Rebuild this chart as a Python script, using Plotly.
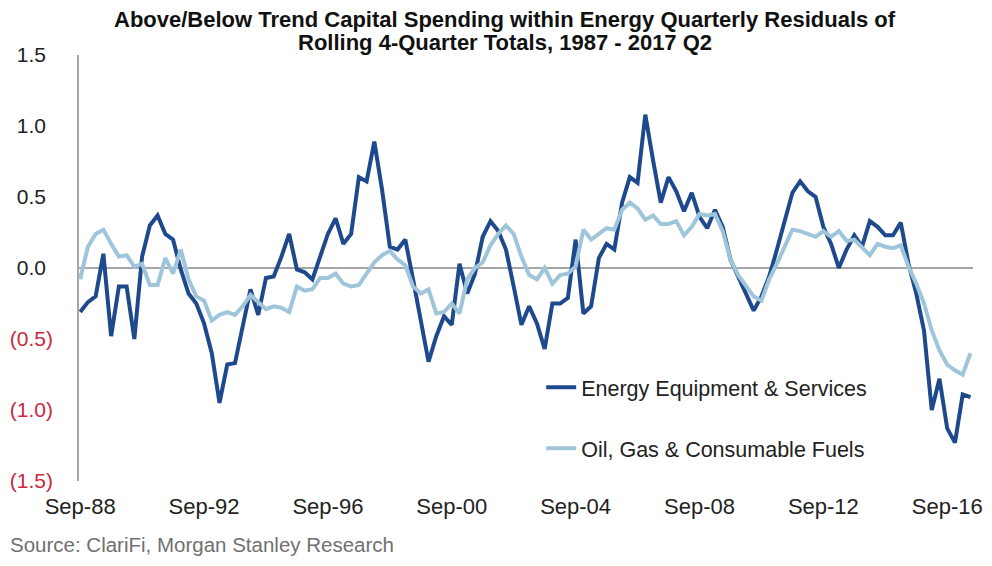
import plotly.graph_objects as go

# Quarterly residuals, Sep-88 through Jun-17
months = ["Mar", "Jun", "Sep", "Dec"]
quarters = []
for yr in range(1988, 2018):
    for q, m in enumerate(months):
        if (yr == 1988 and q < 2) or (yr == 2017 and q > 1):
            continue
        quarters.append(f"{m}-{yr % 100:02d}")

energy_equipment = [
    -0.31, -0.24, -0.20, 0.10, -0.48, -0.13, -0.13, -0.50, 0.08, 0.30,
    0.37, 0.24, 0.20, -0.01, -0.18, -0.25, -0.39, -0.60, -0.95, -0.68,
    -0.67, -0.41, -0.15, -0.33, -0.07, -0.06, 0.08, 0.24, -0.01, -0.03,
    -0.08, 0.08, 0.24, 0.35, 0.17, 0.24, 0.64, 0.61, 0.89, 0.55,
    0.15, 0.13, 0.20, -0.08, -0.39, -0.66, -0.48, -0.34, -0.40, 0.03,
    -0.18, -0.04, 0.22, 0.33, 0.26, 0.13, -0.13, -0.40, -0.27, -0.39,
    -0.57, -0.25, -0.25, -0.21, 0.20, -0.32, -0.27, 0.07, 0.17, 0.13,
    0.46, 0.64, 0.60, 1.08, 0.76, 0.46, 0.64, 0.54, 0.40, 0.53,
    0.36, 0.28, 0.41, 0.29, 0.06, -0.06, -0.18, -0.30, -0.20, -0.06,
    0.13, 0.34, 0.53, 0.61, 0.54, 0.50, 0.29, 0.17, 0.00, 0.13,
    0.23, 0.15, 0.33, 0.29, 0.23, 0.23, 0.32, 0.03, -0.18, -0.44,
    -1.00, -0.78, -1.13, -1.23, -0.89, -0.91,
]

oil_gas_fuels = [
    -0.08, 0.15, 0.24, 0.27, 0.17, 0.08, 0.09, 0.01, 0.03, -0.12,
    -0.12, 0.07, -0.04, 0.13, -0.08, -0.20, -0.23, -0.37, -0.33, -0.31,
    -0.33, -0.27, -0.19, -0.24, -0.29, -0.27, -0.28, -0.31, -0.13, -0.16,
    -0.15, -0.07, -0.07, -0.04, -0.11, -0.13, -0.12, -0.04, 0.04, 0.09,
    0.12, 0.06, 0.02, -0.13, -0.18, -0.15, -0.32, -0.31, -0.25, -0.32,
    -0.08, 0.00, 0.04, 0.16, 0.24, 0.30, 0.24, 0.08, -0.05, -0.08,
    0.00, -0.11, -0.05, -0.04, 0.01, 0.27, 0.20, 0.24, 0.28, 0.27,
    0.41, 0.46, 0.42, 0.34, 0.37, 0.31, 0.31, 0.33, 0.23, 0.29,
    0.38, 0.37, 0.38, 0.26, 0.06, -0.05, -0.12, -0.20, -0.23, -0.08,
    0.03, 0.15, 0.27, 0.26, 0.24, 0.22, 0.26, 0.22, 0.26, 0.19,
    0.20, 0.14, 0.09, 0.17, 0.15, 0.14, 0.16, 0.01, -0.11, -0.25,
    -0.44, -0.58, -0.68, -0.72, -0.75, -0.60,
]

x_ticks = ["Sep-88", "Sep-92", "Sep-96", "Sep-00", "Sep-04", "Sep-08", "Sep-12", "Sep-16"]
y_ticks = [1.5, 1.0, 0.5, 0.0, -0.5, -1.0, -1.5]

title_lines = [
    "Above/Below Trend Capital Spending within Energy Quarterly Residuals of",
    "Rolling 4-Quarter Totals, 1987 - 2017 Q2",
]

DARK = "#1e4a8d"
LIGHT = "#9fc5da"
NEG = "#c9283e"
FONT = "Liberation Sans, Arial, sans-serif"


def y_label(v):
    if v < 0:
        return f"<span style='color:{NEG}'>({abs(v):.1f})</span>"
    return f"{v:.1f}<span style='color:rgba(0,0,0,0)'>)</span>"


fig = go.Figure()
fig.add_trace(go.Scatter(
    x=quarters, y=energy_equipment, mode="lines",
    name="Energy Equipment & Services", legendgroup="a",
    line=dict(color=DARK, width=4),
))
fig.add_trace(go.Scatter(
    x=quarters, y=oil_gas_fuels, mode="lines",
    name="Oil, Gas & Consumable Fuels", legendgroup="b",
    line=dict(color=LIGHT, width=4),
))

fig.update_layout(
    width=992, height=566,
    margin=dict(l=72, r=10, t=55, b=85),
    paper_bgcolor="white", plot_bgcolor="white",
    font=dict(family=FONT, color="#222222"),
    xaxis=dict(
        type="category", range=[-0.15, 115.33],
        tickmode="array", tickvals=x_ticks, ticktext=x_ticks,
        showgrid=False, zeroline=False, showline=False, ticks="",
        ticklabelstandoff=10,
        tickfont=dict(size=22, color="#222222"),
    ),
    yaxis=dict(
        range=[-1.5, 1.5], tickmode="array", tickvals=y_ticks,
        ticktext=[y_label(v) for v in y_ticks],
        showgrid=False, zeroline=True, zerolinecolor="#a6a6a6", zerolinewidth=1.5,
        showline=True, linecolor="#a6a6a6", linewidth=1.5, ticks="",
        ticklabelstandoff=20,
        tickfont=dict(size=21, color="#222222"),
    ),
    legend=dict(
        x=0.517, y=0.268, xanchor="left", yanchor="top",
        bgcolor="rgba(0,0,0,0)", tracegroupgap=30, traceorder="grouped",
        font=dict(size=21.5, color="#222222"),
    ),
    showlegend=True,
)

# Two-line heading centred over the plot, lines set close together
for line_text, ypos in zip(title_lines, [1.0845, 1.0305]):
    fig.add_annotation(
        text=f"<b>{line_text}</b>",
        xref="paper", yref="paper", x=0.477, y=ypos,
        xanchor="center", yanchor="middle", showarrow=False,
        font=dict(size=22, color="#111111"),
    )

fig.add_annotation(
    text="Source: ClariFi, Morgan Stanley Research",
    xref="paper", yref="paper", x=-72 / 910, y=-0.150,
    xanchor="left", yanchor="middle", showarrow=False,
    font=dict(size=20.5, color="#707070"),
)

fig.write_html("out.html")
